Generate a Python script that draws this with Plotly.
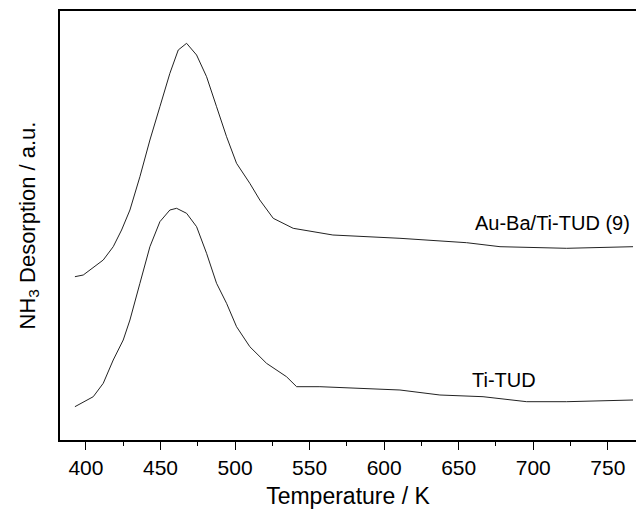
import plotly.graph_objects as go

# Temperature (K) and desorption signal (a.u.)
temp_aubati = [392.6, 398.2, 411.6, 418.3, 423.9, 429.5, 436.2, 442.9, 449.6, 456.3, 461.9,
               467.5, 474.2, 480.9, 487.6, 494.3, 501.0, 509.9, 516.6, 525.6, 539.0, 552.4,
               565.6, 610.6, 655.3, 677.7, 722.4, 766.9]
sig_aubati = [163.3, 165, 180, 193.3, 210, 230, 263.3, 300, 333.3, 366.7, 390,
              396.7, 385, 363.3, 333.3, 303.3, 276.7, 256.7, 240, 221.7, 211.7, 208.3,
              205, 201.7, 197.3, 193.3, 191.7, 193.3]

temp_titud = [392.6, 404.9, 411.6, 418.3, 425.0, 429.5, 436.2, 442.9, 449.6, 456.3, 460.8,
              467.5, 474.2, 480.9, 487.6, 494.3, 501.0, 509.9, 521.1, 534.5, 541.3, 556.9,
              610.6, 637.4, 666.3, 695.6, 722.4, 766.9]
sig_titud = [33.3, 43.3, 56.7, 80, 100, 120, 156.7, 193.3, 218.3, 230, 231.7,
             226.7, 213.3, 186.7, 156.7, 136.7, 113.3, 93.3, 76.7, 63.3, 53.3, 53.3,
             50, 45, 43.3, 38.3, 38.3, 40]

labels = ["Au-Ba/Ti-TUD (9)", "Ti-TUD"]
tick_vals = [400, 450, 500, 550, 600, 650, 700, 750]

FONT = "Liberation Sans, Arial, sans-serif"

fig = go.Figure()
fig.add_trace(go.Scatter(x=temp_aubati, y=sig_aubati, mode="lines",
                         line=dict(color="#222222", width=1), showlegend=False))
fig.add_trace(go.Scatter(x=temp_titud, y=sig_titud, mode="lines",
                         line=dict(color="#222222", width=1), showlegend=False))

fig.add_annotation(x=766.2, y=217, text=labels[0], showarrow=False,
                   xanchor="right", yanchor="middle", font=dict(size=20, color="black", family=FONT))
fig.add_annotation(x=680.3, y=60, text=labels[1], showarrow=False,
                   xanchor="center", yanchor="middle", font=dict(size=20, color="black", family=FONT))

fig.update_layout(
    width=636, height=509,
    margin=dict(l=60, r=0, t=11, b=69),
    plot_bgcolor="white", paper_bgcolor="white",
    font=dict(family=FONT, color="black"),
    xaxis=dict(range=[382.6, 768.9], tickvals=tick_vals, ticks="outside", ticklen=8,
               tickwidth=1.2, tickcolor="black", showline=True, linewidth=1.5,
               linecolor="black", mirror=True, showgrid=False, zeroline=False,
               tickfont=dict(size=21, family=FONT),
               minor=dict(dtick=25, tick0=0, ticks="outside", ticklen=4.5,
                          tickwidth=1.2, tickcolor="black", showgrid=False),
               title=dict(text="Temperature / K", font=dict(size=23, family=FONT), standoff=12)),
    yaxis=dict(range=[0, 429], showticklabels=False, ticks="", showline=True,
               linewidth=1.5, linecolor="black", showgrid=False, zeroline=False,
               title=dict(text="NH<sub>3</sub> Desorption / a.u.", font=dict(size=22, family=FONT),
                          standoff=17)),
)

fig.write_html("out.html", config={"displayModeBar": False})

# remove the default page margin so the figure sits at the window's top-left corner
with open("out.html", "r", encoding="utf-8") as f:
    html = f.read()
html = html.replace("<body>", '<body style="margin:0;padding:0;overflow:hidden">', 1)
with open("out.html", "w", encoding="utf-8") as f:
    f.write(html)
